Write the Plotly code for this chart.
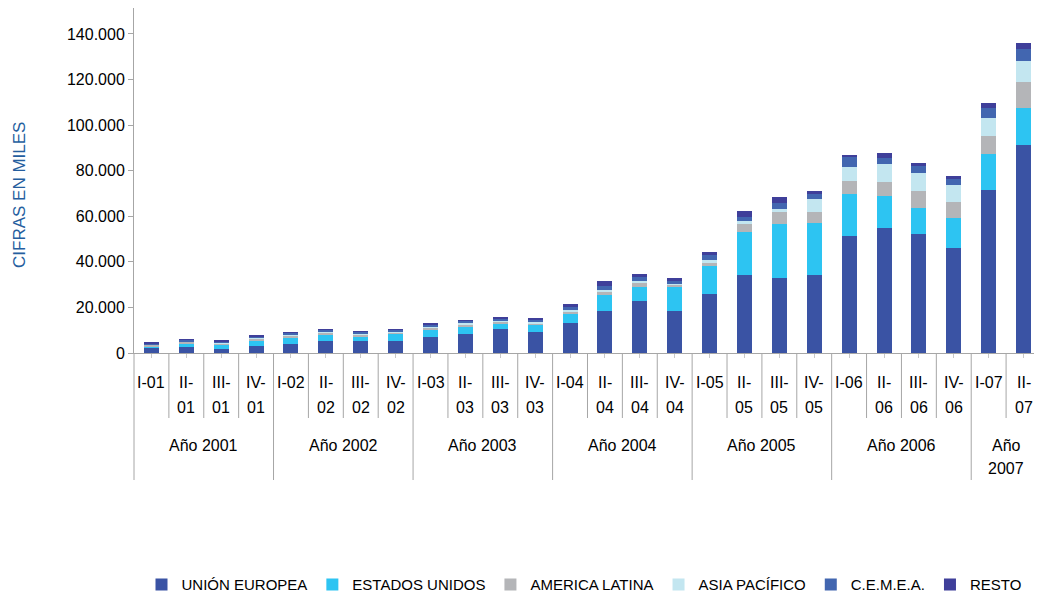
import plotly.graph_objects as go

# datos trimestrales (miles)
quarters = ["I-01", "II-01", "III-01", "IV-01",
            "I-02", "II-02", "III-02", "IV-02",
            "I-03", "II-03", "III-03", "IV-03",
            "I-04", "II-04", "III-04", "IV-04",
            "I-05", "II-05", "III-05", "IV-05",
            "I-06", "II-06", "III-06", "IV-06",
            "I-07", "II-07"]
years = ["Año 2001", "Año 2002", "Año 2003", "Año 2004", "Año 2005", "Año 2006", "Año 2007"]
quarters_per_year = [4, 4, 4, 4, 4, 4, 2]

ue = [2000, 2500, 1600, 2900, 3800, 5100, 5100, 5100, 6900, 8200, 10400, 9100, 13000,
      18300, 22700, 18300, 26100, 34400, 33000, 34400, 51500, 55000, 52300, 46200, 71600, 91400]
eeuu = [900, 1800, 2200, 2200, 3200, 2600, 1750, 3100, 3500, 3500, 2600, 3100, 3900,
        7000, 6100, 10500, 12300, 18900, 23700, 22800, 18400, 14000, 11400, 13200, 15800, 16200]
america_latina = [700, 600, 400, 1300, 700, 1300, 1300, 900, 400, 600, 400, 900, 1500,
                  1300, 1800, 1300, 1300, 3500, 5300, 4800, 5700, 6100, 7500, 7000, 7900, 11400]
asia_pacifico = [200, 200, 200, 300, 300, 300, 300, 300, 900, 1200, 1000, 600, 400,
                 900, 900, 400, 1300, 1300, 1300, 5700, 6100, 7900, 7900, 7500, 7900, 9200]
cemea = [300, 700, 800, 400, 800, 900, 900, 900, 800, 600, 700, 900, 1200,
         1800, 1800, 1300, 2200, 1800, 2600, 2200, 4400, 2600, 3100, 2600, 4400, 5300]
resto = [500, 100, 100, 700, 100, 100, 100, 100, 500, 300, 500, 700, 1300,
         2200, 1300, 900, 1300, 2200, 2600, 1300, 900, 2200, 1300, 1300, 2200, 2600]

series = [
    ("UNIÓN EUROPEA", ue, "#3A53A4"),
    ("ESTADOS UNIDOS", eeuu, "#2DC4F2"),
    ("AMERICA LATINA", america_latina, "#B4B5B8"),
    ("ASIA PACÍFICO", asia_pacifico, "#C3E6F0"),
    ("C.E.M.E.A.", cemea, "#4266B0"),
    ("RESTO", resto, "#3F3F9A"),
]

FONT = "Liberation Sans, Arial, sans-serif"
GRID = "#A6A6A6"

fig = go.Figure()
for name, vals, color in series:
    fig.add_trace(go.Bar(x=quarters, y=vals, name=name, marker_color=color,
                         marker_line_width=0))

annotations = []
shapes = []

# etiquetas de trimestre (se parten en dos líneas si no caben)
for i, q in enumerate(quarters):
    lines = [q] if len(q) <= 4 else [q.split("-")[0] + "-", q.split("-")[1]]
    for k, txt in enumerate(lines):
        annotations.append(dict(x=i, y=0, xref="x", yref="paper", text=txt,
                                showarrow=False, yanchor="middle", yshift=-29.5 - 25 * k,
                                font=dict(family=FONT, size=16, color="#000")))

# etiquetas de año y separadores
start = 0
for yr, n in zip(years, quarters_per_year):
    lines = [yr] if n > 2 else yr.split(" ")
    for k, txt in enumerate(lines):
        annotations.append(dict(x=start + (n - 1) / 2, y=0, xref="x", yref="paper", text=txt,
                                showarrow=False, yanchor="middle", yshift=-92 - 23 * k,
                                font=dict(family=FONT, size=16, color="#000")))
    for j in range(1, n):
        shapes.append(dict(type="line", xref="x", yref="paper", ysizemode="pixel", yanchor=0,
                           x0=start + j - 0.5, x1=start + j - 0.5, y0=0, y1=-65,
                           line=dict(color=GRID, width=1)))
    if start > 0:
        shapes.append(dict(type="line", xref="x", yref="paper", ysizemode="pixel", yanchor=0,
                           x0=start - 0.5, x1=start - 0.5, y0=0, y1=-127,
                           line=dict(color=GRID, width=1)))
    start += n
shapes.append(dict(type="line", xref="paper", yref="paper", ysizemode="pixel", yanchor=0,
                   x0=0, x1=0, y0=0, y1=-127, line=dict(color=GRID, width=1)))

annotations.append(dict(x=0, y=0.458, xref="paper", yref="paper", text="CIFRAS EN MILES",
                        textangle=-90, showarrow=False, xanchor="center", xshift=-114,
                        font=dict(family=FONT, size=17, color="#255E9E")))

# la página añade 8px de margen al cuerpo: el lienzo se reduce para no desbordar
fig.update_layout(
    barmode="stack",
    bargap=0.57,
    width=1026, height=586,
    margin=dict(l=126, r=0, t=0, b=241, autoexpand=False),
    paper_bgcolor="white", plot_bgcolor="white",
    separators=",.",
    showlegend=True,
    legend=dict(orientation="h", x=0.5, xanchor="center", y=-0.672, yanchor="middle",
                font=dict(family=FONT, size=15, color="#000"), traceorder="normal"),
    annotations=annotations,
    shapes=shapes,
    xaxis=dict(type="category", categoryorder="array", categoryarray=quarters,
               range=[-0.5, 25.3], showline=True, linecolor=GRID, ticks="outside",
               ticklen=4, tickcolor="#C8C8C8", showticklabels=False, showgrid=False),
    yaxis=dict(range=[0, 151400], tickvals=[0, 20000, 40000, 60000, 80000, 100000, 120000, 140000],
               tickformat=",d", showline=True, linecolor=GRID, ticks="outside", ticklen=5,
               tickcolor=GRID, showgrid=False, zeroline=False,
               tickfont=dict(family=FONT, size=16, color="#000")),
)

fig.write_html("out.html")
